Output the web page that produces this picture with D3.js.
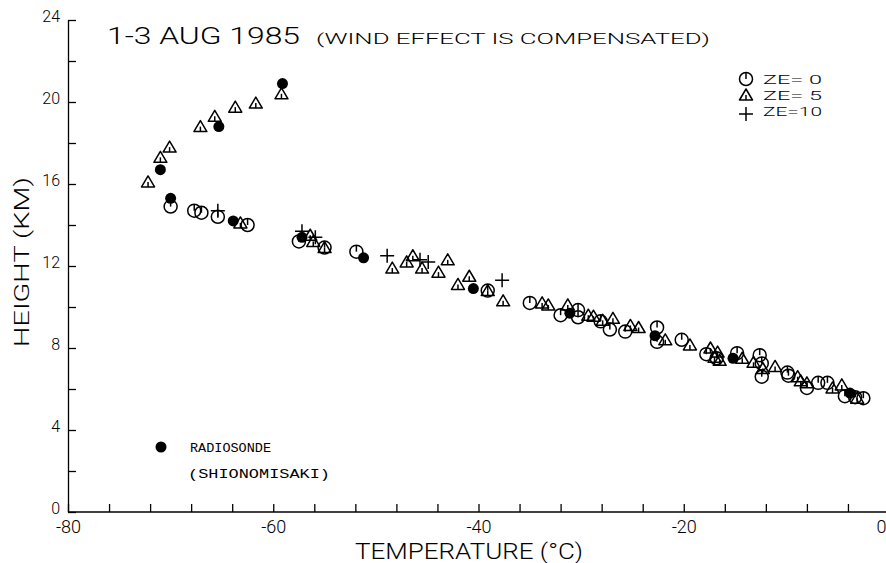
<!DOCTYPE html>
<html><head><meta charset="utf-8">
<script src="https://cdn.jsdelivr.net/npm/d3@7"></script>
<style>
body{margin:0;background:#fff;}
svg{display:block;}
text{fill:#000;}
</style></head>
<body><svg id="c" width="886" height="563"></svg>
<script>
// Data (temperature °C, height km)
const ze0 = [[-70.0,14.9],[-67.7,14.7],[-67.0,14.6],[-65.4,14.4],[-62.5,14.0],[-57.5,13.2],[-55.0,12.9],[-51.9,12.7],[-39.1,10.8],[-35.0,10.2],[-32.0,9.6],[-30.3,9.85],[-30.3,9.5],[-28.1,9.3],[-27.2,8.9],[-25.7,8.8],[-22.6,9.0],[-22.6,8.3],[-20.2,8.4],[-17.8,7.7],[-16.8,7.5],[-14.8,7.75],[-12.6,7.65],[-12.4,7.25],[-12.4,6.6],[-9.9,6.8],[-9.8,6.65],[-8.0,6.05],[-6.9,6.3],[-6.0,6.3],[-4.3,5.65],[-3.3,5.6],[-2.5,5.55]];
const ze5 = [[-72.2,16.1],[-71.0,17.3],[-70.1,17.8],[-67.1,18.8],[-65.7,19.3],[-63.7,19.75],[-61.7,19.95],[-59.2,20.4],[-63.2,14.1],[-56.4,13.5],[-56.1,13.2],[-55.0,12.9],[-48.4,11.9],[-47.0,12.2],[-46.4,12.5],[-45.5,11.9],[-43.9,11.7],[-43.0,12.3],[-42.0,11.1],[-40.9,11.5],[-39.1,10.8],[-37.6,10.3],[-33.8,10.2],[-33.2,10.1],[-31.3,10.1],[-29.3,9.6],[-28.8,9.55],[-27.9,9.35],[-26.9,9.45],[-25.2,9.1],[-24.4,9.0],[-21.8,8.4],[-19.4,8.15],[-17.4,8.0],[-16.7,7.8],[-17.0,7.55],[-16.5,7.4],[-14.3,7.5],[-13.2,7.3],[-12.3,7.0],[-11.1,7.1],[-8.9,6.6],[-8.6,6.4],[-8.0,6.3],[-5.5,6.05],[-4.6,6.2],[-3.1,5.55]];
const ze10 = [[-65.4,14.7],[-57.2,13.7],[-55.9,13.4],[-48.9,12.5],[-45.7,12.3],[-44.9,12.2],[-37.7,11.3]];
const radiosonde = [[-59.1,20.9],[-65.3,18.8],[-71.0,16.7],[-70.0,15.3],[-63.9,14.2],[-57.2,13.4],[-51.2,12.4],[-40.5,10.9],[-31.1,9.7],[-22.8,8.6],[-15.2,7.5],[-3.8,5.8]];
const xTickValues = [-80,-60,-40,-20,0];
const yTickValues = [0,4,8,12,16,20,24];
const legendLabels = ["ZE= 0","ZE= 5","ZE=10"];

const SANS = "Roboto, 'DejaVu Sans', sans-serif";
const MONO = "'Liberation Mono', 'DejaVu Sans Mono', monospace";

const svg = d3.select("#c");
const x = d3.scaleLinear().domain([-80,0]).range([68,889]);
const y = d3.scaleLinear().domain([0,24]).range([512,20]);

function label(sel){ return sel.style("font-family",SANS).style("font-weight",300); }

// axes
const xAxis = d3.axisBottom(x).tickValues(d3.range(-80,1,4)).tickSizeInner(-8).tickSizeOuter(0).tickPadding(6)
  .tickFormat(d => xTickValues.includes(d) ? d : "");
const gx = svg.append("g").attr("transform","translate(0,512)").call(xAxis);
gx.select(".domain").attr("d","M68,0H886").attr("stroke-width",1.6);
label(gx.selectAll("text")).attr("font-size",18).attr("dy","0.85em");
gx.selectAll(".tick").filter(d => d === 0).select("text").attr("text-anchor","end").attr("x",-3);

const yAxis = d3.axisLeft(y).tickValues(d3.range(0,25,2)).tickSizeInner(-8).tickSizeOuter(0).tickPadding(8)
  .tickFormat(d => yTickValues.includes(d) ? d : "");
const gy = svg.append("g").attr("transform","translate(68,0)").call(yAxis);
gy.select(".domain").attr("stroke-width",1.3);
label(gy.selectAll("text")).attr("font-size",16).attr("dy","0.1em");
svg.selectAll(".tick line").attr("stroke-width",1.3);

// axis titles
label(svg.append("text")).attr("x",469).attr("y",559).attr("text-anchor","middle")
  .attr("font-size",22).attr("textLength",228).attr("lengthAdjust","spacingAndGlyphs").text("TEMPERATURE (°C)");
label(svg.append("text")).attr("transform","translate(29,262) rotate(-90)").attr("text-anchor","middle")
  .attr("font-size",21).attr("textLength",170).attr("lengthAdjust","spacingAndGlyphs").text("HEIGHT (KM)");

// title
label(svg.append("text")).attr("x",107).attr("y",44).attr("font-size",24)
  .attr("textLength",193).attr("lengthAdjust","spacingAndGlyphs").text("1-3 AUG 1985");
label(svg.append("text")).attr("x",316).attr("y",44).attr("font-size",14)
  .attr("textLength",394).attr("lengthAdjust","spacingAndGlyphs").text("(WIND EFFECT IS COMPENSATED)");

// marker drawers
const sw = 1.5;
function circleMark(g){
  g.append("circle").attr("r",6.5).attr("fill","none").attr("stroke","#000").attr("stroke-width",sw);
  g.append("line").attr("x1",0).attr("y1",-6.5).attr("x2",0).attr("y2",0).attr("stroke","#000").attr("stroke-width",sw);
}
function triMark(g){
  g.append("path").attr("d","M0,-6L6.5,5H-6.5Z").attr("fill","none").attr("stroke","#000").attr("stroke-width",sw).attr("stroke-linejoin","round");
  g.append("line").attr("x1",0).attr("y1",0).attr("x2",0).attr("y2",5).attr("stroke","#000").attr("stroke-width",sw);
}
function plusMark(g){
  g.append("path").attr("d","M-7,0H7M0,-7V7").attr("stroke","#000").attr("stroke-width",sw).attr("fill","none");
}
function dotMark(g){
  g.append("circle").attr("r",5.5).attr("fill","#000");
}
function draw(data, fn){
  svg.append("g").selectAll("g").data(data).join("g")
    .attr("transform", d => `translate(${x(d[0])},${y(d[1])})`)
    .each(function(){ fn(d3.select(this)); });
}
draw(ze0, circleMark);
draw(ze5, triMark);
draw(ze10, plusMark);
draw(radiosonde, dotMark);

// legend (top right)
const markers = [circleMark, triMark, plusMark];
legendLabels.forEach((t,i) => {
  const yy = 79 + i*16;
  const g = svg.append("g").attr("transform",`translate(746,${yy + (i===2?3:0)})`);
  markers[i](g);
  label(svg.append("text")).attr("x",763).attr("y",yy+5).attr("font-size",13.5)
    .attr("textLength",59).attr("lengthAdjust","spacingAndGlyphs").text(t);
});

// radiosonde legend
const gl = svg.append("g").attr("transform","translate(161,447)");
dotMark(gl);
svg.append("text").attr("x",190).attr("y",452).attr("font-size",13).style("font-family",MONO)
  .attr("textLength",81).attr("lengthAdjust","spacingAndGlyphs").text("RADIOSONDE");
svg.append("text").attr("x",188).attr("y",478).attr("font-size",13).style("font-family",MONO)
  .attr("textLength",142).attr("lengthAdjust","spacingAndGlyphs").text("(SHIONOMISAKI)");
</script></body></html>
